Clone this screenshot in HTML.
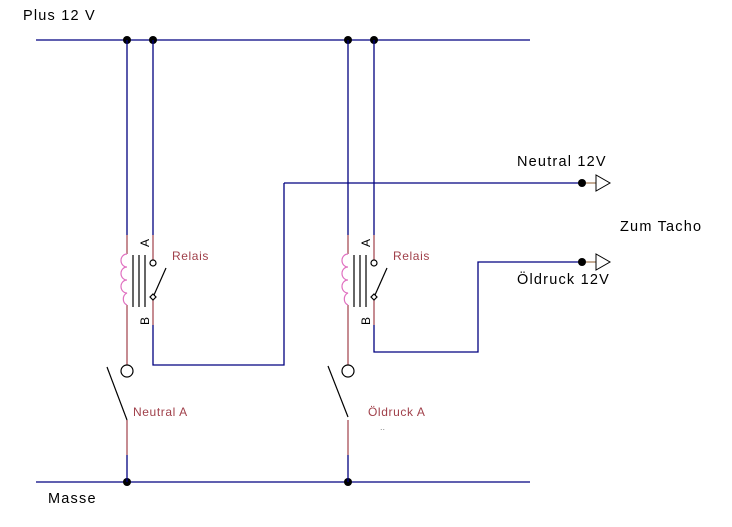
<!DOCTYPE html>
<html><head><style>body{margin:0;background:#fff}svg{display:block}text{font-family:"Liberation Sans",sans-serif}</style></head>
<body>
<svg width="732" height="527" viewBox="0 0 732 527" xmlns="http://www.w3.org/2000/svg">
<g stroke="#000080" stroke-width="1.3" fill="none">
<line x1="36" y1="40" x2="530" y2="40"/>
<line x1="36" y1="482" x2="530" y2="482"/>
<line x1="582" y1="183" x2="284" y2="183"/>
<polyline points="284,183 284,365 153,365 153,325"/>
<polyline points="582,262 478,262 478,352 374,352 374,325"/>
</g>
<line x1="582" y1="183" x2="596" y2="183" stroke="#8b5a2b"/>
<line x1="582" y1="262" x2="596" y2="262" stroke="#8b5a2b"/>
<g stroke="#000" fill="#fff" stroke-width="1">
<polygon points="596,175 596,191 610,183"/>
<polygon points="596,254 596,270 610,262"/>
</g>
<g fill="#000">
<circle cx="127" cy="40" r="4"/><circle cx="153" cy="40" r="4"/>
<circle cx="348" cy="40" r="4"/><circle cx="374" cy="40" r="4"/>
<circle cx="127" cy="482" r="4"/><circle cx="348" cy="482" r="4"/>
<circle cx="582" cy="183" r="4"/><circle cx="582" cy="262" r="4"/>
</g>
<g id="r">
<g stroke="#000080" stroke-width="1.3">
<line x1="127" y1="40" x2="127" y2="235"/>
<line x1="153" y1="40" x2="153" y2="235"/>
<line x1="127" y1="455" x2="127" y2="482"/>
</g>
<g stroke="#a0404a" stroke-width="1.2" fill="none">
<line x1="127" y1="235" x2="127" y2="254"/>
<line x1="127" y1="305" x2="127" y2="365"/>
<line x1="127" y1="420" x2="127" y2="455"/>
<line x1="153" y1="235" x2="153" y2="260"/>
<line x1="153" y1="300" x2="153" y2="325"/>
</g>
<path d="M127,254 a6,6.5 0 0 0 0,13 a6,6.5 0 0 0 0,13 a6,6.5 0 0 0 0,13 a6,6.5 0 0 0 0,12" stroke="#e070c0" fill="none" stroke-width="1.2"/>
<g stroke="#000" stroke-width="1.2" fill="#fff">
<line x1="133" y1="255" x2="133" y2="307"/>
<line x1="139" y1="255" x2="139" y2="307"/>
<line x1="145" y1="255" x2="145" y2="307"/>
<circle cx="153" cy="263" r="3"/>
<line x1="154" y1="295" x2="166" y2="268"/>
<polygon points="153,294 156,297 153,300 150,297"/>
<circle cx="127" cy="371" r="6"/>
</g>
<text transform="translate(149,247) rotate(-90)" font-size="12" fill="#000">A</text>
<text transform="translate(149,325) rotate(-90)" font-size="12" fill="#000">B</text>
<text x="172" y="260" font-size="12" letter-spacing="0.6" fill="#a0404a">Relais</text>
</g>
<use href="#r" transform="translate(221,0)"/>
<line x1="107" y1="367" x2="127" y2="420" stroke="#000" stroke-width="1.2"/>
<line x1="328" y1="366" x2="348" y2="417" stroke="#000" stroke-width="1.2"/>
<text x="133" y="416" font-size="12" letter-spacing="0.6" fill="#a0404a">Neutral A</text>
<text x="368" y="416" font-size="12" letter-spacing="0.6" fill="#a0404a">Öldruck A</text>
<text x="380" y="430" font-size="9" fill="#888">..</text>
<g font-size="14.5" letter-spacing="1.2" fill="#000">
<text x="23" y="20">Plus 12 V</text>
<text x="48" y="503">Masse</text>
<text x="517" y="166">Neutral 12V</text>
<text x="620" y="231">Zum Tacho</text>
<text x="517" y="284">Öldruck 12V</text>
</g>
</svg>
</body></html>
